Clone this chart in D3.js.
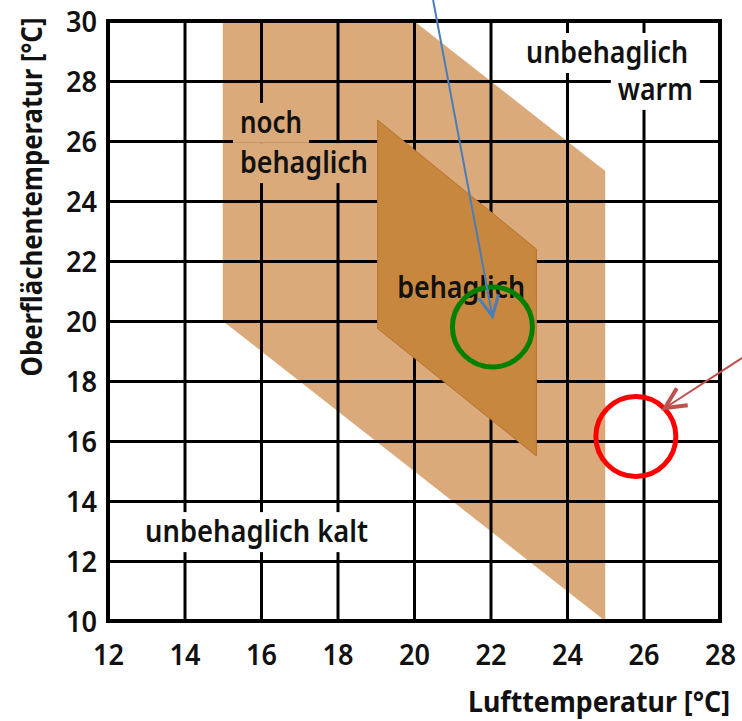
<!DOCTYPE html>
<html>
<head>
<meta charset="utf-8">
<script src="https://cdn.jsdelivr.net/npm/d3@7"></script>
<style>
  body { margin: 0; background: #fff; }
  text { font-family: "Noto Sans", "Open Sans", "DejaVu Sans", sans-serif; fill: #111; }
</style>
</head>
<body>
<div id="chart"></div>
<script>
// data (air temperature x, surface temperature y)
var xTicks = [12, 14, 16, 18, 20, 22, 24, 26, 28];
var yTicks = [10, 12, 14, 16, 18, 20, 22, 24, 26, 28, 30];

// "noch behaglich" zone
var stillComfortable = [[15, 30], [20, 30], [25, 25], [25, 10], [15, 20]];
// "behaglich" zone
var comfortable = [[19.05, 26.7], [23.2, 22.4], [23.2, 15.5], [19.05, 19.75]];

// marked points
var circleX = [22.05, 25.8];
var circleY = [19.8, 16.15];
var circleColor = ["#008000", "#ff0000"];

// arrows: start, tip
var arrowFrom = [[20.5, 30.7], [28.58, 18.77]];
var arrowTo = [[22.05, 20.15], [26.56, 17.1]];
var arrowColor = ["#4a7ebb", "#c0504d"];

// zone labels: text lines, anchor point (x, y), width
var labelText = ["unbehaglich", "warm", "noch", "behaglich", "behaglich", "unbehaglich kalt"];
var labelX = [22.93, 27.29, 15.45, 15.45, 19.56, 12.97];
var labelY = [28.6, 27.37, 26.27, 24.93, 20.77, 12.63];
var labelWidth = [162, 75, 62, 128, 128, 223];
var labelAnchor = ["start", "end", "start", "start", "start", "start"];
var labelFill = ["#fff", "#fff", "#daaa7a", "#daaa7a", null, "#fff"];

var svgWidth = 742;
var svgHeight = 721;

var margin = { top: 21, right: 22, bottom: 100, left: 108 };
var width = svgWidth - margin.left - margin.right;
var height = svgHeight - margin.top - margin.bottom;

var svg = d3.select("#chart")
  .append("svg")
  .attr("width", svgWidth)
  .attr("height", svgHeight);

var chartGroup = svg.append("g")
  .attr("transform", `translate(${margin.left}, ${margin.top})`);

var xScale = d3.scaleLinear().domain([12, 28]).range([0, width]);
var yScale = d3.scaleLinear().domain([10, 30]).range([height, 0]);

var line = d3.line()
  .x(d => xScale(d[0]))
  .y(d => yScale(d[1]));

// light zone goes below the grid
chartGroup.append("path")
  .attr("d", line(stillComfortable) + "Z")
  .attr("fill", "#daaa7a");

// grid lines
var gridX = chartGroup.append("g")
  .attr("transform", `translate(0, ${height})`)
  .call(d3.axisBottom(xScale).tickValues(xTicks.slice(1, -1)).tickSize(-height).tickFormat(""));
var gridY = chartGroup.append("g")
  .call(d3.axisLeft(yScale).tickValues(yTicks.slice(1, -1)).tickSize(-width).tickFormat(""));
[gridX, gridY].forEach(function(g) {
  g.select(".domain").remove();
  g.selectAll("line").attr("stroke", "#000").attr("stroke-width", 3);
});

// frame
chartGroup.append("rect")
  .attr("width", width)
  .attr("height", height)
  .attr("fill", "none")
  .attr("stroke", "#000")
  .attr("stroke-width", 4);

// tick labels
var xAxis = chartGroup.append("g")
  .attr("transform", `translate(0, ${height})`)
  .call(d3.axisBottom(xScale).tickValues(xTicks).tickSize(0).tickPadding(0));
xAxis.selectAll("text")
  .attr("y", 44)
  .attr("dy", null);

var yAxis = chartGroup.append("g")
  .call(d3.axisLeft(yScale).tickValues(yTicks).tickSize(0).tickPadding(11));
yAxis.selectAll("text")
  .attr("dy", "0.36em");

[xAxis, yAxis].forEach(function(g) {
  g.select(".domain").remove();
  g.selectAll("text")
    .attr("font-family", null)
    .attr("font-size", 29)
    .attr("font-weight", 600)
    .attr("fill", "#111")
    .attr("textLength", 31)
    .attr("lengthAdjust", "spacingAndGlyphs");
});

// dark zone sits on top of the grid
chartGroup.append("path")
  .attr("d", line(comfortable) + "Z")
  .attr("fill", "#c8873f")
  .attr("stroke", "#b8732f")
  .attr("stroke-width", 1);

// zone labels with a knock-out box
labelText.forEach(function(t, i) {
  var px = xScale(labelX[i]);
  var py = yScale(labelY[i]);
  var x0 = labelAnchor[i] === "end" ? px - labelWidth[i] : px;
  if (labelFill[i]) {
    chartGroup.append("rect")
      .attr("x", x0 - 7)
      .attr("y", py - 30)
      .attr("width", labelWidth[i] + 14)
      .attr("height", 40)
      .attr("fill", labelFill[i]);
  }
  chartGroup.append("text")
    .attr("x", px)
    .attr("y", py)
    .attr("text-anchor", labelAnchor[i])
    .attr("font-size", 30)
    .attr("font-weight", 600)
    .attr("textLength", labelWidth[i])
    .attr("lengthAdjust", "spacingAndGlyphs")
    .text(t);
});

// circles
circleX.forEach(function(cx, i) {
  chartGroup.append("circle")
    .attr("cx", xScale(cx))
    .attr("cy", yScale(circleY[i]))
    .attr("r", 40)
    .attr("fill", "none")
    .attr("stroke", circleColor[i])
    .attr("stroke-width", 5);
});

// arrows with open heads
arrowFrom.forEach(function(a, i) {
  var x1 = xScale(a[0]), y1 = yScale(a[1]);
  var x2 = xScale(arrowTo[i][0]), y2 = yScale(arrowTo[i][1]);
  chartGroup.append("line")
    .attr("x1", x1).attr("y1", y1)
    .attr("x2", x2).attr("y2", y2)
    .attr("stroke", arrowColor[i])
    .attr("stroke-width", 2);

  var ang = Math.atan2(y1 - y2, x1 - x2);
  var len = 23, spread = 26 * Math.PI / 180;
  var head = [
    [x2 + len * Math.cos(ang + spread), y2 + len * Math.sin(ang + spread)],
    [x2, y2],
    [x2 + len * Math.cos(ang - spread), y2 + len * Math.sin(ang - spread)]
  ];
  chartGroup.append("path")
    .attr("d", d3.line()(head))
    .attr("fill", "none")
    .attr("stroke", arrowColor[i])
    .attr("stroke-width", i === 0 ? 3 : 4)
    .attr("stroke-linejoin", "miter");
});

// axis titles (squeezed horizontally with a scale so they keep their size)
var xTitle = svg.append("text")
  .attr("text-anchor", "end")
  .attr("font-size", 28)
  .attr("font-weight", 700)
  .text("Lufttemperatur [°C]");
var xw = xTitle.node().getComputedTextLength();
xTitle.attr("transform", `translate(730, 712) scale(${262 / xw}, 1)`);

var yTitle = svg.append("text")
  .attr("text-anchor", "middle")
  .attr("font-size", 28)
  .attr("font-weight", 700)
  .text("Oberflächentemperatur [°C]");
var yw = yTitle.node().getComputedTextLength();
yTitle.attr("transform", `translate(41.7, 197) rotate(-90) scale(${359 / yw}, 1)`);
</script>
</body>
</html>
